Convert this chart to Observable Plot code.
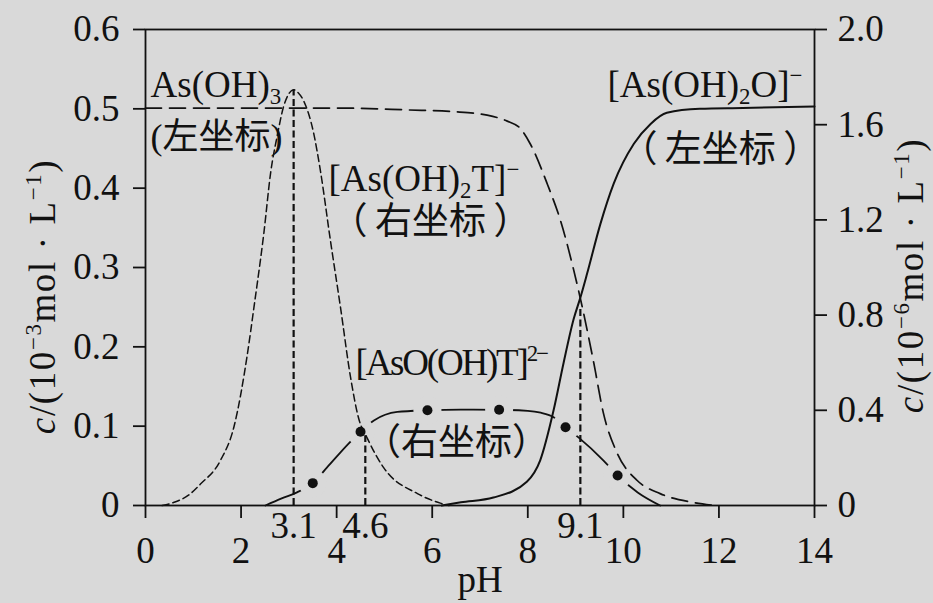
<!DOCTYPE html>
<html>
<head>
<meta charset="utf-8">
<script src="https://cdn.jsdelivr.net/npm/d3@7"></script>
<script src="https://cdn.jsdelivr.net/npm/@observablehq/plot@0.6"></script>
<style>
  html, body { margin: 0; padding: 0; background: #d9d9d9; }
</style>
</head>
<body>
<div id="chart"></div>
<script>
// ---------- data (pH, concentration) ----------
// As(OH)3, left axis (10^-3 mol/L)
const asOH3 = [[0.35,0],[0.6,0.004],[0.9,0.013],[1.15,0.027],[1.57,0.057],[1.85,0.099],[2.13,0.19],[2.27,0.25],[2.48,0.345],[2.62,0.42],[2.76,0.467],[2.89,0.503],[3.0,0.519],[3.1,0.524],[3.2,0.52],[3.31,0.51],[3.52,0.469],[3.66,0.422],[3.87,0.334],[4.08,0.25],[4.29,0.162],[4.46,0.11],[4.64,0.085],[4.98,0.048],[5.69,0.015],[6.17,0.003],[6.35,0]];
// [As(OH)2T]-, right axis (10^-6 mol/L)
const asOH2T = [[0,1.67],[2,1.67],[4,1.67],[5.5,1.662],[6.44,1.655],[7.15,1.64],[7.57,1.615],[7.84,1.585],[8.05,1.52],[8.41,1.35],[8.68,1.2],[8.96,0.99],[9.1,0.87],[9.38,0.6],[9.58,0.39],[9.87,0.22],[10.29,0.105],[10.77,0.05],[11.46,0.013],[11.9,0]];
// [As(OH)2O]-, left axis
const asOH2O = [[6.2,0],[6.6,0.004],[7.28,0.01],[7.98,0.03],[8.26,0.057],[8.54,0.12],[8.75,0.18],[8.96,0.235],[9.1,0.262],[9.24,0.292],[9.52,0.355],[9.8,0.406],[10.22,0.456],[10.57,0.481],[10.91,0.495],[11.6,0.5],[12.5,0.501],[14,0.503]];
// [AsO(OH)T]2-, right axis
const asOOHT = [[2.51,0],[2.85,0.03],[3.17,0.055],[3.5,0.094],[3.8,0.16],[4.25,0.26],[4.5,0.31],[4.78,0.357],[5.27,0.393],[5.9,0.4],[6.6,0.403],[7.4,0.402],[8.0,0.398],[8.27,0.39],[8.55,0.37],[8.79,0.329],[9.06,0.286],[9.58,0.19],[9.88,0.126],[10.3,0.055],[10.77,0]];
const asOOHTDots = [[3.5,0.094],[4.5,0.31],[5.9,0.4],[7.4,0.402],[8.79,0.329],[9.88,0.126]];
// reference vertical lines (pH, left-axis top)
const refLines = [[3.1,0.524],[4.6,0.088],[9.1,0.25]];
const refLabels = ["3.1","4.6","9.1"];

const xTicks = [0,2,4,6,8,10,12,14];
const leftTicks = [0,0.1,0.2,0.3,0.4,0.5,0.6];
const rightTicks = [0,0.4,0.8,1.2,1.6,2.0];

// annotations: [pH, left value, text]
const labels = [
  [0.105, 0.5294, "As(OH)_{3}"],
  [3.83, 0.411, "[As(OH)_{2}T]^{−}"],
  [4.394, 0.18, "[AsO(OH)T]^{2−}"],
  [9.668, 0.5294, "[As(OH)_{2}O]^{−}"]
];
const cnLabelLeft = [[0.105, 0.4639, "(左坐标)"]];
const cnLabels = [
  [5.964, 0.3567, "（\u2009右坐标\u2009）"],
  [6.508, 0.078, "（右坐标）"],
  [12.03, 0.4475, "（\u2009左坐标\u2009）"]
];
const yLabelLeft = "~{c}/(10^{−3}mol · L^{−1})";
const yLabelRight = "~{c}/(10^{−6}mol · L^{−1})";

// ---------- helpers ----------
const K = 0.3; // right axis value -> left axis value (2.0 -> 0.6)
const BG = "#d9d9d9", INK = "#111";
const SERIF = "Liberation Serif, Times New Roman, serif";
const MIX = "Liberation Serif, Noto Sans CJK SC, serif";
const fmt = v => Math.abs(v) < 1e-9 ? "0" : v.toFixed(1);
const L = arr => arr.map(([x, v]) => ({x, v}));
const R = arr => arr.map(([x, v]) => ({x, v: v * K}));

const chart = Plot.plot({
  width: 933, height: 603,
  marginLeft: 145, marginRight: 119, marginTop: 29, marginBottom: 98,
  x: {domain: [0, 14], label: null},
  y: {domain: [0, 0.6], label: null},
  style: {background: BG, fontFamily: SERIF, fontSize: "37px", color: INK},
  marks: [
    // AsO(OH)T line, with gaps around the dots
    Plot.line(R(asOOHT), {x: "x", y: "v", curve: "monotone-x", stroke: INK, strokeWidth: 1.8}),
    Plot.dot(R(asOOHTDots), {x: "x", y: "v", r: 14, fill: BG, stroke: "none"}),
    // other curves
    Plot.line(L(asOH3), {x: "x", y: "v", curve: "monotone-x", stroke: INK, strokeWidth: 1.5, strokeDasharray: "7,4"}),
    Plot.line(R(asOH2T), {x: "x", y: "v", curve: "monotone-x", stroke: INK, strokeWidth: 1.7, strokeDasharray: "16,8"}),
    Plot.line(L(asOH2O), {x: "x", y: "v", curve: "monotone-x", stroke: INK, strokeWidth: 2}),
    Plot.ruleX(L(refLines), {x: "x", y1: 0, y2: "v", stroke: INK, strokeWidth: 2.2, strokeDasharray: "7,3.5"}),
    Plot.dot(R(asOOHTDots), {x: "x", y: "v", r: 5, fill: INK, stroke: "none"}),
    // frame & axes
    Plot.frame({stroke: INK, strokeWidth: 1.8}),
    Plot.axisX({ticks: xTicks, tickSize: 13, tickPadding: 18, tickFormat: d => String(d), fontSize: 37, fontFamily: SERIF, fontVariant: "normal", strokeWidth: 1.8, label: null}),
    Plot.axisY({anchor: "left", ticks: leftTicks, tickSize: 12, tickPadding: 14, tickFormat: fmt, fontSize: 37, fontFamily: SERIF, fontVariant: "normal", strokeWidth: 1.8, label: null}),
    Plot.axisY({anchor: "right", ticks: rightTicks.map(v => v * K), tickSize: 12, tickPadding: 11, tickFormat: d => fmt(d / K), fontSize: 37, fontFamily: SERIF, fontVariant: "normal", strokeWidth: 1.8, label: null}),
    Plot.text(refLines, {x: d => d[0], y: 0, text: (d, i) => refLabels[i], dy: 21, lineAnchor: "middle", textAnchor: "middle", fontSize: 37, fontFamily: SERIF, fill: INK}),
    Plot.text(["pH"], {frameAnchor: "bottom", text: d => d, dy: 75, lineAnchor: "middle", fontSize: 37, fontFamily: SERIF, fill: INK}),
    Plot.text([yLabelLeft], {frameAnchor: "left", text: d => d, rotate: -90, dx: -102, dy: 29, lineAnchor: "middle", textAnchor: "middle", fontSize: 37, fontFamily: SERIF, fill: INK}),
    Plot.text([yLabelRight], {frameAnchor: "right", text: d => d, rotate: -90, dx: 97, dy: 8, lineAnchor: "middle", textAnchor: "middle", fontSize: 37, fontFamily: SERIF, fill: INK}),
    // annotations
    Plot.text(labels, {x: d => d[0], y: d => d[1], text: d => d[2], textAnchor: "start", lineAnchor: "middle", fontSize: 37, fill: INK, fontFamily: SERIF}),
    Plot.text(cnLabelLeft, {x: d => d[0], y: d => d[1], text: d => d[2], textAnchor: "start", lineAnchor: "middle", fontSize: 36, fill: INK, fontFamily: MIX}),
    Plot.text(cnLabels, {x: d => d[0], y: d => d[1], text: d => d[2], textAnchor: "middle", lineAnchor: "middle", fontSize: 37, fill: INK, fontFamily: MIX})
  ]
});

document.getElementById("chart").appendChild(chart);

// rich text: _{sub}, ^{sup}, ~{italic}
(function richify(svg) {
  const NS = "http://www.w3.org/2000/svg";
  svg.querySelectorAll("text").forEach(t => {
    const s = t.textContent;
    if (!/[_^~]\{/.test(s)) return;
    const fs = parseFloat(getComputedStyle(t).fontSize) || 37;
    if (s.includes("AsO(")) t.style.letterSpacing = "-2.2px";
    if (s.startsWith("~{c}")) t.style.letterSpacing = "1.6px";
    while (t.firstChild) t.removeChild(t.firstChild);
    const re = /([_^~])\{([^}]*)\}/g;
    let last = 0, m;
    const add = (str, kind) => {
      if (!str) return;
      const ts = document.createElementNS(NS, "tspan");
      ts.textContent = str;
      if (kind === "_") {
        ts.setAttribute("font-size", (fs * 0.62).toFixed(1) + "px");
        ts.setAttribute("baseline-shift", (-fs * 0.2).toFixed(1) + "px");
      } else if (kind === "^") {
        ts.setAttribute("font-size", (fs * 0.62).toFixed(1) + "px");
        ts.setAttribute("baseline-shift", (fs * 0.38).toFixed(1) + "px");
      } else if (kind === "~") {
        ts.setAttribute("font-style", "italic");
      }
      t.appendChild(ts);
    };
    while ((m = re.exec(s))) {
      add(s.slice(last, m.index), null);
      add(m[2], m[1]);
      last = re.lastIndex;
    }
    add(s.slice(last), null);
  });
})(chart);
</script>
</body>
</html>
